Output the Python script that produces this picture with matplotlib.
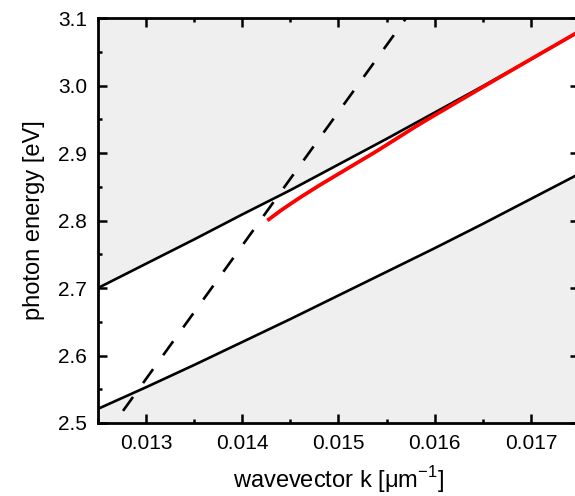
import numpy as np
import matplotlib
matplotlib.use("Agg")
import matplotlib.pyplot as plt
from matplotlib.ticker import MultipleLocator

plt.rcParams['font.family'] = ['Liberation Sans', 'DejaVu Sans']
plt.rcParams['mathtext.fontset'] = 'custom'
plt.rcParams['mathtext.rm'] = 'Liberation Sans'

# wavevector k [um^-1]
k = [0.0125, 0.0130, 0.0135, 0.0140, 0.0145, 0.0150,
     0.0155, 0.0160, 0.0165, 0.0170, 0.0175]
# upper and lower boundaries [eV]
upper = [2.700, 2.736, 2.772, 2.809, 2.845, 2.883,
         2.921, 2.960, 2.999, 3.039, 3.080]
lower = [2.521, 2.553, 2.586, 2.620, 2.654, 2.689,
         2.724, 2.759, 2.795, 2.832, 2.869]

# light line (dashed)
k_light = [0.01276, 0.0140, 0.0150, 0.0158]
e_light = [2.518, 2.763, 2.961, 3.119]

# red branch
k_red = [0.01426, 0.0143, 0.0144, 0.0145, 0.0146, 0.0148, 0.0150, 0.0152,
         0.0154, 0.0156, 0.0158, 0.0160, 0.0163, 0.0166, 0.0170, 0.0175]
e_red = [2.800, 2.8042, 2.8148, 2.8245, 2.834, 2.852, 2.869, 2.886,
         2.903, 2.921, 2.939, 2.956, 2.981, 3.006, 3.039, 3.080]

fig = plt.figure(figsize=(5.75, 4.96), dpi=100)
ax = fig.add_axes([98 / 575, 73 / 496, 481 / 575, 405 / 496])

grey = '#efefef'
ax.fill_between(k, upper, 3.1, color=grey, lw=0)
ax.fill_between(k, 2.5, lower, color=grey, lw=0)

ax.plot(k, upper, color='black', lw=1.9)
ax.plot(k, lower, color='black', lw=1.9)
ax.plot(k_light, e_light, color='black', lw=1.9, linestyle=(0, (6.5, 6.5)))
ax.plot(k_red, e_red, color='red', lw=2.7, solid_capstyle='butt')

ax.set_xlim(0.0125, 0.0175)
ax.set_ylim(2.5, 3.1)
ax.xaxis.set_major_locator(MultipleLocator(0.001))
ax.xaxis.set_minor_locator(MultipleLocator(0.0005))
ax.yaxis.set_major_locator(MultipleLocator(0.1))
ax.yaxis.set_minor_locator(MultipleLocator(0.05))
ax.xaxis.set_major_formatter(plt.FuncFormatter(lambda v, p: f"{v:.3f}"))
ax.yaxis.set_major_formatter(plt.FuncFormatter(lambda v, p: f"{v:.1f}"))

ax.tick_params(which='both', direction='in', top=True, right=True, width=1.8)
ax.tick_params(which='major', length=6.5, labelsize=15, pad=8)
ax.tick_params(which='minor', length=3.2)
for s in ax.spines.values():
    s.set_linewidth(2)

ax.set_xlabel(r'wavevector k [μm$^{\mathregular{-1}}$]', fontsize=17, labelpad=8)
ax.set_ylabel('photon energy [eV]', fontsize=17, labelpad=9)

fig.savefig('out.png', dpi=100)
